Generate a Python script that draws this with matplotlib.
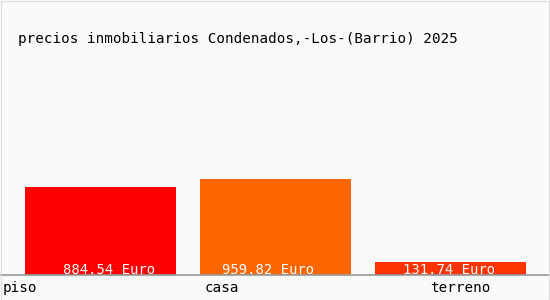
import matplotlib
matplotlib.use("Agg")
import matplotlib.pyplot as plt
import matplotlib.transforms as mtransforms

title = "precios inmobiliarios Condenados,-Los-(Barrio) 2025"
categories = ["piso", "casa", "terreno"]
values = [884.54, 959.82, 131.74]
value_labels = ["884.54 Euro", "959.82 Euro", "131.74 Euro"]
colors = ["#ff0000", "#ff6600", "#ff3300"]

W, H = 550, 300
fig = plt.figure(figsize=(W / 100, H / 100), dpi=100)
fig.patch.set_facecolor("#fafafa")

# outer border
fig.add_artist(plt.Rectangle((0.5 / W, 0.5 / H), 1 - 1.5 / W, 1 - 1.5 / H,
                             transform=fig.transFigure, fill=False,
                             edgecolor="#dddddd", linewidth=0.8))

ax = fig.add_axes([0, 25 / H, 548 / W, 200 / H])
ax.set_facecolor("none")
ax.set_ylim(0, 2000)
ax.set_xlim(-100.5 / 175, (548 - 100.5) / 175)
x = list(range(len(categories)))
ax.bar(x, values, width=151 / 175, color=colors, linewidth=0)
for s in ["top", "right", "left"]:
    ax.spines[s].set_visible(False)
ax.spines["bottom"].set_color("#999999")
ax.spines["bottom"].set_linewidth(1.2)
ax.set_xticks([])
ax.set_yticks([])

mono = "DejaVu Sans Mono"
label_shift_px = [8.5, -7, -1.5]
offset = mtransforms.ScaledTranslation(0, 1.5 / 100, fig.dpi_scale_trans)
for i, (lab, sh) in enumerate(zip(value_labels, label_shift_px)):
    ax.text(i + sh / 175, 0, lab, ha="center", va="baseline", color="white",
            fontsize=10, family=mono, transform=ax.transData + offset)

# category labels
cat_x_px = [3, 205, 430]
for c, px in zip(categories, cat_x_px):
    fig.text(px / W, 1 - 288 / H, c, ha="left", va="center", fontsize=10.3,
             family=mono, color="black")

fig.text(18 / W, 1 - 39 / H, title, ha="left", va="center", fontsize=10.3,
         family=mono, color="black")

fig.savefig("out.png", dpi=100, facecolor=fig.get_facecolor())
